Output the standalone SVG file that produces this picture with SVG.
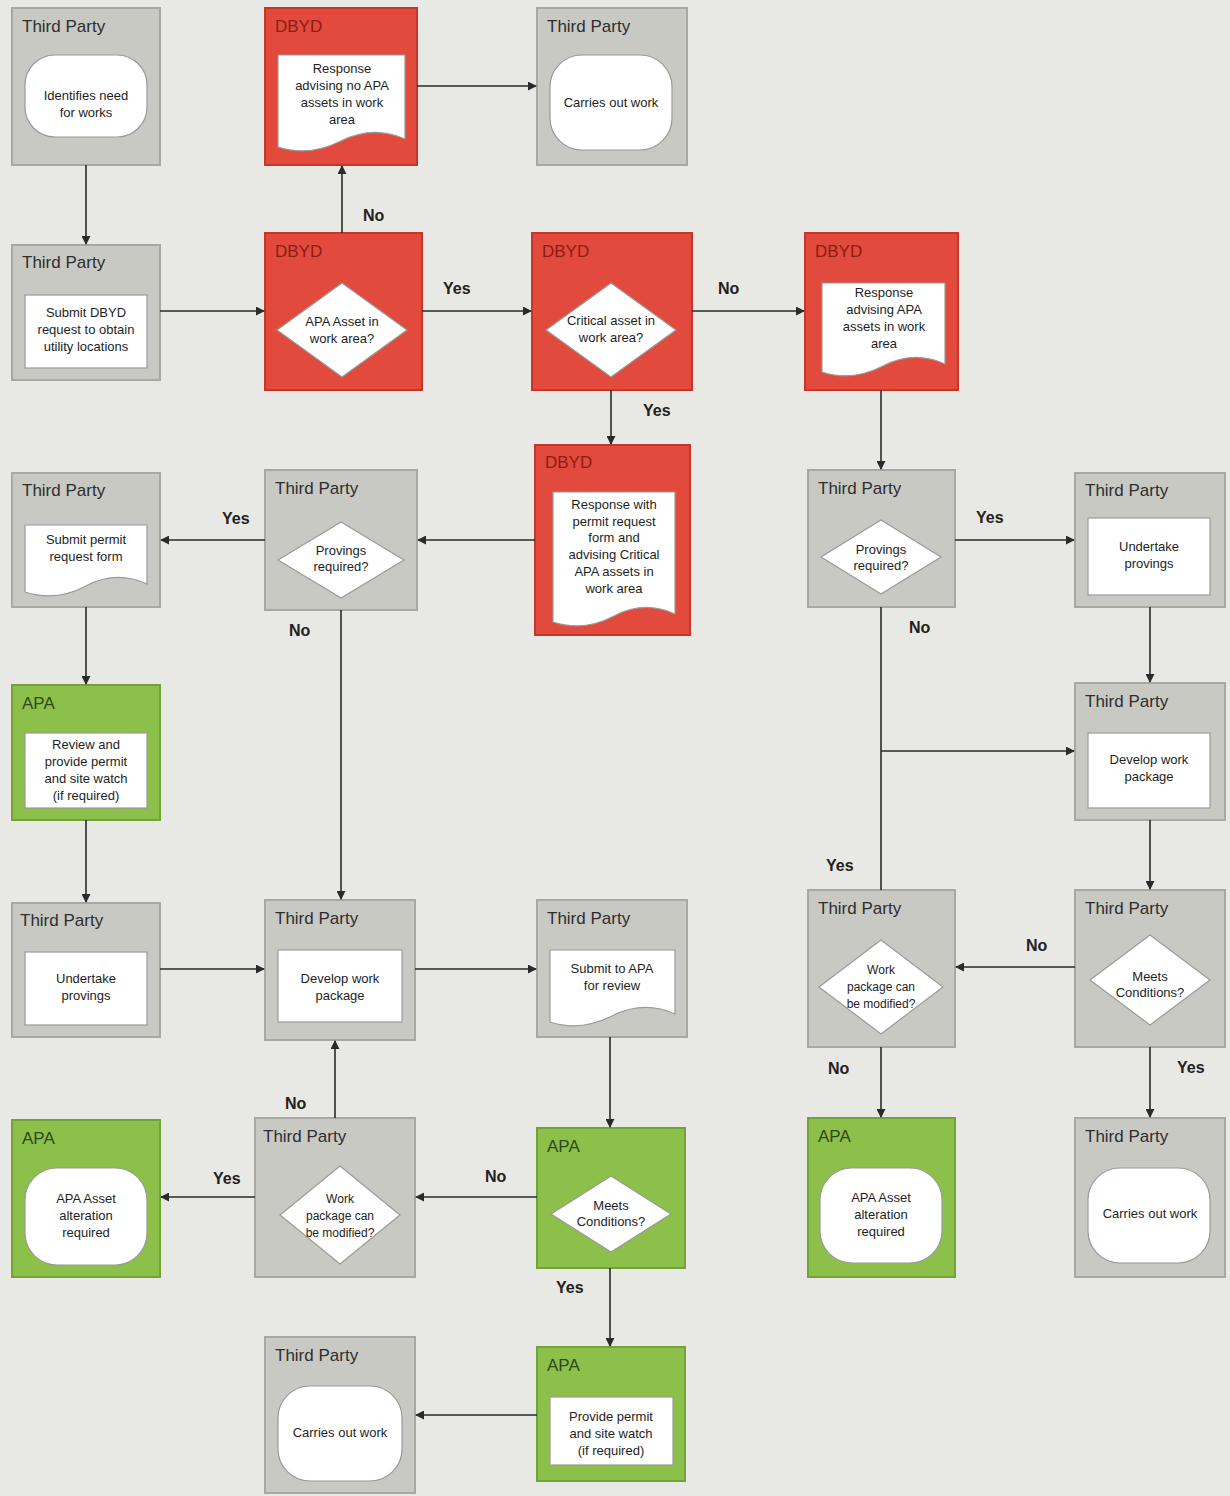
<svg xmlns="http://www.w3.org/2000/svg" width="1230" height="1496" viewBox="0 0 1230 1496">
<style>
.bg{fill:#e8e8e4}
.gray{fill:#c9c9c4;stroke:#a8a8a3;stroke-width:2}
.red{fill:#e14a3c;stroke:#c4372a;stroke-width:2}
.green{fill:#8dbf4b;stroke:#73a338;stroke-width:2}
.title{font-family:"Liberation Sans",Arial,sans-serif;font-size:17px;fill:#2e2e2e}
.red-t{fill:#8c1d12}
.green-t{fill:#2e4a1c}
.shape{fill:#ffffff;stroke:#9a9a96;stroke-width:1.2}
.body{font-family:"Liberation Sans",Arial,sans-serif;font-size:13px;fill:#1e1e1e;text-anchor:middle}
.sm{font-size:12px}
.conn{fill:none;stroke:#2a2a2a;stroke-width:1.6}
.lbl{font-family:"Liberation Sans",Arial,sans-serif;font-size:16px;font-weight:bold;fill:#222}
</style>
<defs>
<marker id="arr" viewBox="0 0 10 10" refX="9" refY="5" markerWidth="9" markerHeight="9" orient="auto" markerUnits="userSpaceOnUse">
<path d="M0,0 L10,5 L0,10 z" fill="#2a2a2a"/>
</marker>
</defs>
<rect class="bg" x="0" y="0" width="1230" height="1496"/>

<g id="n1"><rect class="gray" x="12" y="8" width="148" height="157"/><text class="title" x="22" y="32">Third Party</text><rect class="shape" x="25" y="55" width="122" height="82" rx="30"/><text class="body" x="86" y="100">Identifies need</text><text class="body" x="86" y="117">for works</text></g>

<g id="n2"><rect class="red" x="265" y="8" width="152" height="157"/><text class="title red-t" x="275" y="32">DBYD</text><path class="shape" d="M278,55 H405 V139 Q373,125 341,141 T278,147 Z"/><text class="body" x="342" y="73">Response</text><text class="body" x="342" y="90">advising no APA</text><text class="body" x="342" y="107">assets in work</text><text class="body" x="342" y="124">area</text></g>

<g id="n3"><rect class="gray" x="537" y="8" width="150" height="157"/><text class="title" x="547" y="32">Third Party</text><rect class="shape" x="550" y="55" width="122" height="95" rx="32"/><text class="body" x="611" y="107">Carries out work</text></g>

<g id="n4"><rect class="gray" x="12" y="245" width="148" height="135"/><text class="title" x="22" y="268">Third Party</text><rect class="shape" x="25" y="295" width="122" height="73"/><text class="body" x="86" y="317">Submit DBYD</text><text class="body" x="86" y="334">request to obtain</text><text class="body" x="86" y="351">utility locations</text></g>

<g id="n5"><rect class="red" x="265" y="233" width="157" height="157"/><text class="title red-t" x="275" y="257">DBYD</text><path class="shape" d="M342,283 L407,330 L342,377 L277,330 Z"/><text class="body" x="342" y="326">APA Asset in</text><text class="body" x="342" y="343">work area?</text></g>

<g id="n6"><rect class="red" x="532" y="233" width="160" height="157"/><text class="title red-t" x="542" y="257">DBYD</text><path class="shape" d="M611,283 L676,330 L611,377 L546,330 Z"/><text class="body" x="611" y="325">Critical asset in</text><text class="body" x="611" y="342">work area?</text></g>

<g id="n7"><rect class="red" x="805" y="233" width="153" height="157"/><text class="title red-t" x="815" y="257">DBYD</text><path class="shape" d="M822,283 H945 V364 Q914,350 883,366 T822,372 Z"/><text class="body" x="884" y="297">Response</text><text class="body" x="884" y="314">advising APA</text><text class="body" x="884" y="331">assets in work</text><text class="body" x="884" y="348">area</text></g>

<g id="n8"><rect class="red" x="535" y="445" width="155" height="190"/><text class="title red-t" x="545" y="468">DBYD</text><path class="shape" d="M553,492 H675 V614 Q644,600 614,616 T553,622 Z"/><text class="body" x="614" y="509">Response with</text><text class="body" x="614" y="526">permit request</text><text class="body" x="614" y="542">form and</text><text class="body" x="614" y="559">advising Critical</text><text class="body" x="614" y="576">APA assets in</text><text class="body" x="614" y="593">work area</text></g>

<g id="n9"><rect class="gray" x="12" y="473" width="148" height="134"/><text class="title" x="22" y="496">Third Party</text><path class="shape" d="M25,525 H147 V584 Q116,570 86,586 T25,592 Z"/><text class="body" x="86" y="544">Submit permit</text><text class="body" x="86" y="561">request form</text></g>

<g id="n10"><rect class="gray" x="265" y="470" width="152" height="140"/><text class="title" x="275" y="494">Third Party</text><path class="shape" d="M341,522 L404,560 L341,598 L278,560 Z"/><text class="body" x="341" y="555">Provings</text><text class="body" x="341" y="571">required?</text></g>

<g id="n11"><rect class="gray" x="808" y="470" width="147" height="137"/><text class="title" x="818" y="494">Third Party</text><path class="shape" d="M881,520 L941,557 L881,594 L821,557 Z"/><text class="body" x="881" y="554">Provings</text><text class="body" x="881" y="570">required?</text></g>

<g id="n12"><rect class="gray" x="1075" y="473" width="150" height="134"/><text class="title" x="1085" y="496">Third Party</text><rect class="shape" x="1088" y="518" width="122" height="77"/><text class="body" x="1149" y="551">Undertake</text><text class="body" x="1149" y="568">provings</text></g>

<g id="n13"><rect class="green" x="12" y="685" width="148" height="135"/><text class="title green-t" x="22" y="709">APA</text><rect class="shape" x="25" y="733" width="122" height="75"/><text class="body" x="86" y="749">Review and</text><text class="body" x="86" y="766">provide permit</text><text class="body" x="86" y="783">and site watch</text><text class="body" x="86" y="800">(if required)</text></g>

<g id="n14"><rect class="gray" x="1075" y="683" width="150" height="137"/><text class="title" x="1085" y="707">Third Party</text><rect class="shape" x="1088" y="733" width="122" height="75"/><text class="body" x="1149" y="764">Develop work</text><text class="body" x="1149" y="781">package</text></g>

<g id="n15"><rect class="gray" x="12" y="903" width="148" height="134"/><text class="title" x="20" y="926">Third Party</text><rect class="shape" x="25" y="952" width="122" height="73"/><text class="body" x="86" y="983">Undertake</text><text class="body" x="86" y="1000">provings</text></g>

<g id="n16"><rect class="gray" x="265" y="900" width="150" height="140"/><text class="title" x="275" y="924">Third Party</text><rect class="shape" x="278" y="950" width="124" height="72"/><text class="body" x="340" y="983">Develop work</text><text class="body" x="340" y="1000">package</text></g>

<g id="n17"><rect class="gray" x="537" y="900" width="150" height="137"/><text class="title" x="547" y="924">Third Party</text><path class="shape" d="M550,950 H675 V1014 Q644,1000 612,1016 T550,1022 Z"/><text class="body" x="612" y="973">Submit to APA</text><text class="body" x="612" y="990">for review</text></g>

<g id="n18"><rect class="gray" x="808" y="890" width="147" height="157"/><text class="title" x="818" y="914">Third Party</text><path class="shape" d="M881,940 L943,987 L881,1034 L819,987 Z"/><text class="body sm" x="881" y="974">Work</text><text class="body sm" x="881" y="991">package can</text><text class="body sm" x="881" y="1008">be modified?</text></g>

<g id="n19"><rect class="gray" x="1075" y="890" width="150" height="157"/><text class="title" x="1085" y="914">Third Party</text><path class="shape" d="M1150,935 L1210,980 L1150,1025 L1090,980 Z"/><text class="body" x="1150" y="981">Meets</text><text class="body" x="1150" y="997">Conditions?</text></g>

<g id="n20"><rect class="green" x="12" y="1120" width="148" height="157"/><text class="title green-t" x="22" y="1144">APA</text><rect class="shape" x="25" y="1168" width="122" height="97" rx="32"/><text class="body" x="86" y="1203">APA Asset</text><text class="body" x="86" y="1220">alteration</text><text class="body" x="86" y="1237">required</text></g>

<g id="n21"><rect class="gray" x="255" y="1118" width="160" height="159"/><text class="title" x="263" y="1142">Third Party</text><path class="shape" d="M340,1166 L400,1215 L340,1264 L280,1215 Z"/><text class="body sm" x="340" y="1203">Work</text><text class="body sm" x="340" y="1220">package can</text><text class="body sm" x="340" y="1237">be modified?</text></g>

<g id="n22"><rect class="green" x="537" y="1128" width="148" height="140"/><text class="title green-t" x="547" y="1152">APA</text><path class="shape" d="M611,1176 L671,1214 L611,1252 L551,1214 Z"/><text class="body" x="611" y="1210">Meets</text><text class="body" x="611" y="1226">Conditions?</text></g>

<g id="n23"><rect class="green" x="808" y="1118" width="147" height="159"/><text class="title green-t" x="818" y="1142">APA</text><rect class="shape" x="820" y="1168" width="122" height="95" rx="32"/><text class="body" x="881" y="1202">APA Asset</text><text class="body" x="881" y="1219">alteration</text><text class="body" x="881" y="1236">required</text></g>

<g id="n24"><rect class="gray" x="1075" y="1118" width="150" height="159"/><text class="title" x="1085" y="1142">Third Party</text><rect class="shape" x="1088" y="1168" width="122" height="95" rx="32"/><text class="body" x="1150" y="1218">Carries out work</text></g>

<g id="n25"><rect class="gray" x="265" y="1337" width="150" height="156"/><text class="title" x="275" y="1361">Third Party</text><rect class="shape" x="278" y="1386" width="124" height="95" rx="32"/><text class="body" x="340" y="1437">Carries out work</text></g>

<g id="n26"><rect class="green" x="537" y="1347" width="148" height="134"/><text class="title green-t" x="547" y="1371">APA</text><rect class="shape" x="550" y="1397" width="123" height="68"/><text class="body" x="611" y="1421">Provide permit</text><text class="body" x="611" y="1438">and site watch</text><text class="body" x="611" y="1455">(if required)</text></g>

<g id="connectors">
<path class="conn" marker-end="url(#arr)" d="M86,165 V244"/>
<path class="conn" marker-end="url(#arr)" d="M160,311 H264"/>
<path class="conn" marker-end="url(#arr)" d="M342,233 V166"/>
<path class="conn" marker-end="url(#arr)" d="M422,311 H531"/>
<path class="conn" marker-end="url(#arr)" d="M417,86 H536"/>
<path class="conn" marker-end="url(#arr)" d="M692,311 H804"/>
<path class="conn" marker-end="url(#arr)" d="M611,390 V444"/>
<path class="conn" marker-end="url(#arr)" d="M535,540 H418"/>
<path class="conn" marker-end="url(#arr)" d="M265,540 H161"/>
<path class="conn" marker-end="url(#arr)" d="M341,610 V899"/>
<path class="conn" marker-end="url(#arr)" d="M86,607 V684"/>
<path class="conn" marker-end="url(#arr)" d="M86,820 V902"/>
<path class="conn" marker-end="url(#arr)" d="M160,969 H264"/>
<path class="conn" marker-end="url(#arr)" d="M415,969 H536"/>
<path class="conn" marker-end="url(#arr)" d="M610,1037 V1127"/>
<path class="conn" marker-end="url(#arr)" d="M537,1197 H416"/>
<path class="conn" marker-end="url(#arr)" d="M255,1197 H161"/>
<path class="conn" marker-end="url(#arr)" d="M335,1118 V1041"/>
<path class="conn" marker-end="url(#arr)" d="M610,1268 V1346"/>
<path class="conn" marker-end="url(#arr)" d="M537,1415 H416"/>
<path class="conn" marker-end="url(#arr)" d="M881,390 V469"/>
<path class="conn" marker-end="url(#arr)" d="M955,540 H1074"/>
<path class="conn" d="M881,607 V890"/>
<path class="conn" marker-end="url(#arr)" d="M881,751 H1074"/>
<path class="conn" marker-end="url(#arr)" d="M1150,607 V682"/>
<path class="conn" marker-end="url(#arr)" d="M1150,820 V889"/>
<path class="conn" marker-end="url(#arr)" d="M1075,967 H956"/>
<path class="conn" marker-end="url(#arr)" d="M881,1047 V1117"/>
<path class="conn" marker-end="url(#arr)" d="M1150,1047 V1117"/>
<text class="lbl" x="363" y="221">No</text>
<text class="lbl" x="443" y="294">Yes</text>
<text class="lbl" x="718" y="294">No</text>
<text class="lbl" x="643" y="416">Yes</text>
<text class="lbl" x="222" y="524">Yes</text>
<text class="lbl" x="289" y="636">No</text>
<text class="lbl" x="976" y="523">Yes</text>
<text class="lbl" x="909" y="633">No</text>
<text class="lbl" x="826" y="871">Yes</text>
<text class="lbl" x="1026" y="951">No</text>
<text class="lbl" x="828" y="1074">No</text>
<text class="lbl" x="1177" y="1073">Yes</text>
<text class="lbl" x="285" y="1109">No</text>
<text class="lbl" x="485" y="1182">No</text>
<text class="lbl" x="213" y="1184">Yes</text>
<text class="lbl" x="556" y="1293">Yes</text>
</g>
</svg>
